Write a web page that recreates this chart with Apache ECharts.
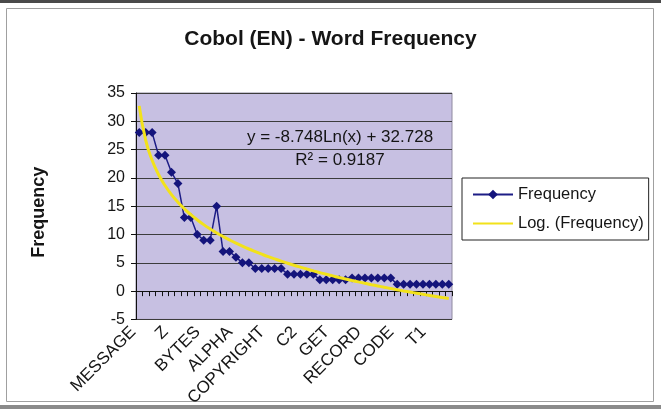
<!DOCTYPE html>
<html>
<head>
<meta charset="utf-8">
<script src="https://cdn.jsdelivr.net/npm/echarts@6/dist/echarts.min.js"></script>
<style>
    html, body { margin: 0; padding: 0; background: #fff; }
    #chart { width: 661px; height: 409px; }
</style>
</head>
<body>
<div id="chart"></div>
<script>
// words on the x axis (only every 5th one is printed in the original)
var categories = [
    'MESSAGE', '', '', '', '',
    'Z', '', '', '', '',
    'BYTES', '', '', '', '',
    'ALPHA', '', '', '', '',
    'COPYRIGHT', '', '', '', '',
    'C2', '', '', '', '',
    'GET', '', '', '', '',
    'RECORD', '', '', '', '',
    'CODE', '', '', '', '',
    'T1', '', '', ''
];

// word counts
var frequency = [
    28, 28, 28, 24, 24, 21, 19, 13, 13, 10,
    9, 9, 15, 7, 7, 6, 5, 5, 4, 4,
    4, 4, 4, 3, 3, 3, 3, 3, 2, 2,
    2, 2, 2, 2.3, 2.3, 2.3, 2.3, 2.3, 2.3, 2.3,
    1.2, 1.2, 1.2, 1.2, 1.2, 1.2, 1.2, 1.2, 1.2
];

// log trendline as drawn (y = -8.748Ln(x) + 32.728)
var logTrend = [
    32.73, 26.66, 23.12, 20.60, 18.65, 17.05, 15.71, 14.54, 13.51, 12.59,
    11.75, 10.99, 10.29, 9.64, 9.04, 8.47, 7.94, 7.44, 6.97, 6.52,
    6.09, 5.69, 5.30, 4.93, 4.57, 4.23, 3.90, 3.58, 3.27, 2.97,
    2.69, 2.41, 2.14, 1.88, 1.63, 1.38, 1.14, 0.91, 0.68, 0.46,
    0.24, 0.03, -0.17, -0.38, -0.57, -0.77, -0.95, -1.14, -1.32
];

var font = '"Liberation Sans", Arial, sans-serif';

var myChart = echarts.init(document.getElementById('chart'));

var option = {
    animation: false,
    backgroundColor: '#fff',
    title: {
        text: 'Cobol (EN) - Word Frequency',
        left: 'center',
        top: 24,
        textStyle: { fontSize: 21, fontWeight: 'bold', color: '#151515', fontFamily: font }
    },
    legend: {
        orient: 'vertical',
        left: 462,
        top: 178,
        data: [
            { name: 'Frequency' },
            { name: 'Log. (Frequency)', itemStyle: { opacity: 0 } }
        ],
        itemWidth: 40,
        itemHeight: 12,
        itemGap: 12,
        padding: [8, 5, 8, 10],
        borderColor: '#222',
        borderWidth: 1,
        backgroundColor: '#fff',
        textStyle: { fontSize: 16.5, color: '#151515', fontFamily: font }
    },
    grid: {
        left: 136,
        top: 93,
        width: 316,
        height: 234,
        show: true,
        backgroundColor: '#c7c0e2',
        borderColor: '#8f8aa0',
        borderWidth: 1
    },
    xAxis: {
        type: 'category',
        data: categories,
        boundaryGap: true,
        axisLine: { onZero: true, lineStyle: { color: '#111', width: 1 } },
        axisTick: { show: true, interval: 0, length: 5, lineStyle: { color: '#111' } },
        axisLabel: {
            interval: 4,
            rotate: 45,
            margin: 16,
            verticalAlign: 'bottom',
            fontSize: 17,
            color: '#151515',
            fontFamily: font
        },
        splitLine: { show: false }
    },
    yAxis: {
        type: 'value',
        min: -5,
        max: 35,
        interval: 5,
        name: 'Frequency',
        nameLocation: 'middle',
        nameGap: 88,
        nameTextStyle: { fontSize: 18, fontWeight: 'bold', color: '#151515', fontFamily: font, padding: [0, 12, 0, 0] },
        axisLine: { show: true, lineStyle: { color: '#111', width: 1 } },
        axisTick: { show: true, length: 5, lineStyle: { color: '#111' } },
        axisLabel: { fontSize: 16, margin: 11, color: '#151515', fontFamily: font },
        splitLine: { show: true, lineStyle: { color: '#3c3c3c', width: 1 } }
    },
    series: [
        {
            name: 'Frequency',
            type: 'line',
            data: frequency,
            symbol: 'diamond',
            symbolSize: 9,
            showAllSymbol: true,
            itemStyle: { color: '#14147c' },
            lineStyle: { color: '#1d1d86', width: 1.5 },
            z: 2
        },
        {
            name: 'Log. (Frequency)',
            type: 'line',
            data: logTrend,
            smooth: true,
            symbol: 'none',
            itemStyle: { color: '#f2e21a' },
            lineStyle: { color: '#f2e21a', width: 3 },
            z: 3
        }
    ],
    graphic: [
        { type: 'rect', shape: { x: 0, y: 0, width: 661, height: 3 }, style: { fill: '#4a4a4a' } },
        { type: 'rect', shape: { x: 0, y: 405, width: 661, height: 4 }, style: { fill: '#8a8a8a' } },
        { type: 'rect', shape: { x: 6.5, y: 8.5, width: 647, height: 393 }, style: { fill: 'none', stroke: '#a0a0a0', lineWidth: 1 } },
        {
            type: 'text', z: 10,
            style: { text: 'y = -8.748Ln(x) + 32.728', x: 340, y: 137, align: 'center', verticalAlign: 'middle', font: '17px ' + font, fill: '#151515' }
        },
        {
            type: 'text', z: 10,
            style: { text: 'R\u00b2 = 0.9187', x: 340, y: 160, align: 'center', verticalAlign: 'middle', font: '17px ' + font, fill: '#151515' }
        }
    ]
};

myChart.setOption(option);
</script>
</body>
</html>
